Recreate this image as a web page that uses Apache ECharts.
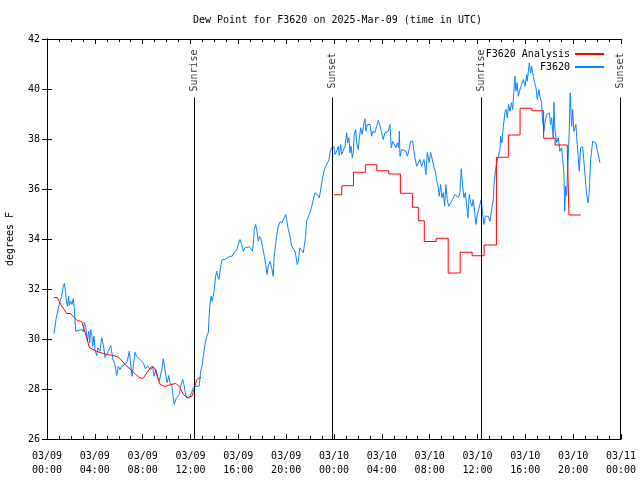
<!DOCTYPE html>
<html>
<head>
<meta charset="utf-8">
<script src="https://cdn.jsdelivr.net/npm/echarts@6/dist/echarts.min.js"></script>
<style>html,body{margin:0;padding:0;background:#fff}#c{width:640px;height:480px}</style>
</head>
<body>
<div id="c"></div>
<script>
// time in hours since 2025-03-09 00:00 UTC
const xTickLabels = ['03/09\n00:00','03/09\n04:00','03/09\n08:00','03/09\n12:00','03/09\n16:00','03/09\n20:00',
  '03/10\n00:00','03/10\n04:00','03/10\n08:00','03/10\n12:00','03/10\n16:00','03/10\n20:00','03/11\n00:00'];
const yTicks = [26,28,30,32,34,36,38,40,42];

const sunTimes = [12.29, 23.83, 36.29, 47.93];
const sunLabels = ['Sunrise','Sunset','Sunrise','Sunset'];

// F3620 observations [hour, degF]
const f3620 = [
[0.59,30.22],[0.75,30.78],[0.94,31.21],[1.09,31.51],[1.23,31.71],[1.36,32.11],[1.45,32.22],[1.53,31.98],[1.59,31.65],[1.70,31.31],
[1.81,31.71],[1.86,31.34],[1.98,31.51],[2.09,31.38],[2.20,31.61],[2.28,31.25],[2.40,30.31],[2.53,30.38],[2.90,30.38],[3.04,30.29],
[3.12,30.67],[3.24,30.46],[3.37,29.91],[3.49,30.31],[3.57,29.85],[3.65,30.38],[3.74,30.18],[3.82,29.71],[3.93,30.11],[4.01,29.58],
[4.16,29.34],[4.26,29.65],[4.43,29.51],[4.57,30.05],[4.71,29.78],[4.85,29.26],[4.99,29.38],[5.13,29.51],[5.33,29.74],[5.50,29.21],
[5.68,28.98],[5.83,28.54],[5.96,28.91],[6.10,28.78],[6.25,28.91],[6.38,28.86],[6.52,28.98],[6.71,29.11],[6.88,29.51],[7.00,28.98],
[7.11,28.51],[7.22,28.91],[7.36,29.47],[7.50,29.31],[7.63,29.25],[7.83,29.15],[8.05,29.05],[8.22,28.81],[8.39,28.91],[8.55,28.98],
[8.70,28.78],[8.84,28.91],[8.95,28.51],[9.11,28.78],[9.22,28.51],[9.39,28.31],[9.51,28.25],[9.62,28.85],[9.72,29.21],[9.84,29.21],
[9.95,28.51],[10.06,28.25],[10.18,28.54],[10.28,28.25],[10.45,28.09],[10.56,27.65],[10.64,27.38],[10.79,27.61],[10.89,27.58],[11.06,27.78],
[11.20,28.14],[11.34,28.38],[11.45,28.18],[11.56,27.85],[11.68,27.65],[11.90,27.65],[12.10,27.87],[12.29,28.09],[12.52,28.11],[12.73,28.11],
[12.85,28.71],[12.96,28.91],[13.07,29.29],[13.21,29.78],[13.35,30.11],[13.49,30.25],[13.55,30.85],[13.63,31.38],[13.71,31.71],[13.82,31.51],
[13.90,31.45],[13.99,31.98],[14.10,32.51],[14.19,32.71],[14.27,32.51],[14.38,32.38],[14.46,32.65],[14.55,32.98],[14.66,33.18],[14.88,33.18],
[15.03,33.25],[15.30,33.31],[15.49,33.31],[15.66,33.47],[15.86,33.55],[16.00,33.78],[16.14,33.98],[16.28,33.78],[16.41,33.51],[16.56,33.65],
[16.70,33.69],[16.89,33.69],[17.06,33.61],[17.17,33.51],[17.25,33.78],[17.33,34.38],[17.45,34.58],[17.53,34.38],[17.67,33.91],[17.78,34.11],
[17.89,34.01],[17.95,34.09],[18.04,33.65],[18.17,33.31],[18.29,32.98],[18.40,32.58],[18.50,32.91],[18.65,33.11],[18.79,32.85],[18.92,32.51],
[19.00,33.31],[19.12,33.78],[19.20,34.11],[19.34,34.51],[19.48,34.67],[19.67,34.67],[19.84,34.85],[19.96,34.98],[20.04,34.78],[20.18,34.38],
[20.32,34.11],[20.46,33.71],[20.59,33.65],[20.74,33.51],[20.82,33.31],[20.93,32.98],[21.01,33.11],[21.15,33.65],[21.30,33.58],[21.43,33.45],
[21.51,33.71],[21.63,34.11],[21.71,34.71],[21.85,34.89],[21.99,35.05],[22.13,35.29],[22.27,35.58],[22.41,35.85],[22.55,35.91],[22.68,35.74],
[22.77,35.65],[22.91,36.05],[23.02,36.38],[23.16,36.71],[23.30,36.91],[23.47,37.05],[23.58,37.18],[23.66,37.45],[23.80,37.65],[24.00,37.69],
[24.08,37.38],[24.22,37.51],[24.36,37.71],[24.44,37.34],[24.56,37.78],[24.64,37.38],[24.77,37.38],[24.92,37.71],[25.06,38.25],[25.14,37.85],
[25.25,38.05],[25.33,37.45],[25.42,37.71],[25.53,37.25],[25.61,37.45],[25.69,38.18],[25.81,38.38],[25.89,37.85],[26.03,37.58],[26.11,37.98],
[26.23,38.45],[26.36,38.18],[26.51,38.65],[26.59,38.81],[26.67,38.31],[26.78,38.58],[26.90,38.51],[27.01,38.58],[27.15,38.11],[27.23,38.31],
[27.34,38.38],[27.42,38.25],[27.57,38.51],[27.70,38.75],[27.84,38.54],[27.98,38.25],[28.12,37.98],[28.26,38.25],[28.40,38.18],[28.54,38.31],
[28.68,38.58],[28.79,37.65],[28.91,37.91],[29.01,37.98],[29.18,37.65],[29.29,37.85],[29.41,37.65],[29.46,38.31],[29.52,37.31],[29.66,37.58],
[29.79,37.51],[30.02,37.51],[30.13,37.31],[30.29,37.58],[30.41,37.91],[30.58,37.91],[30.69,37.51],[30.77,37.25],[30.91,36.91],[31.05,36.91],
[31.19,37.18],[31.33,36.91],[31.52,37.18],[31.69,36.58],[31.80,37.47],[31.96,37.05],[32.08,37.47],[32.25,37.11],[32.36,36.85],[32.47,36.71],
[32.58,36.38],[32.72,36.05],[32.80,35.71],[32.92,36.18],[33.03,35.65],[33.14,35.85],[33.25,35.31],[33.36,36.18],[33.47,35.58],[33.59,35.31],
[33.75,35.31],[33.92,35.58],[34.11,35.78],[34.26,35.85],[34.39,35.65],[34.53,35.85],[34.64,36.81],[34.76,36.11],[34.87,35.65],[34.98,35.85],
[35.09,35.38],[35.20,34.85],[35.31,35.78],[35.43,35.45],[35.54,35.31],[35.64,35.58],[35.76,35.11],[35.87,34.58],[35.98,34.98],[36.10,35.18],
[36.20,35.38],[36.31,35.58],[36.43,34.98],[36.54,34.58],[36.65,34.91],[36.76,34.85],[36.90,34.91],[37.04,34.71],[37.18,35.18],[37.32,35.58],
[37.37,36.11],[37.48,36.65],[37.60,37.05],[37.74,37.31],[37.88,37.58],[37.94,38.11],[38.04,37.85],[38.15,38.45],[38.29,39.05],[38.38,39.18],
[38.49,38.85],[38.60,39.38],[38.71,39.11],[38.85,39.45],[38.94,39.18],[39.05,39.98],[39.13,40.51],[39.21,39.91],[39.32,40.25],[39.41,39.71],
[39.55,39.98],[39.69,40.18],[39.83,40.38],[39.97,40.11],[40.11,40.58],[40.16,40.31],[40.24,40.65],[40.33,41.05],[40.44,40.65],[40.53,40.91],
[40.66,40.51],[40.78,40.25],[40.89,40.05],[41.00,39.58],[41.14,39.98],[41.22,39.71],[41.36,39.45],[41.45,38.71],[41.56,38.31],[41.64,38.65],
[41.78,38.98],[42.00,39.05],[42.11,38.58],[42.20,38.85],[42.33,38.05],[42.39,39.47],[42.47,38.38],[42.62,37.85],[42.75,38.05],[42.89,37.51],
[43.03,37.65],[43.12,37.18],[43.23,36.65],[43.29,35.11],[43.37,36.11],[43.45,35.71],[43.56,36.91],[43.67,38.31],[43.75,39.85],[43.87,38.51],
[43.96,39.18],[44.06,38.31],[44.23,38.58],[44.34,37.78],[44.42,37.31],[44.51,36.71],[44.62,37.65],[44.79,37.69],[44.90,37.11],[45.01,36.45],
[45.13,35.78],[45.26,35.45],[45.34,35.85],[45.46,37.18],[45.63,37.91],[45.74,37.98],[45.88,37.85],[46.01,37.58],[46.24,37.05]
];

// F3620 Analysis, first day (smooth)
const analysisDay1 = [
[0.59,31.66],[0.86,31.66],[1.15,31.38],[1.65,31.02],[1.98,31.02],[2.34,30.82],[2.53,30.74],[2.90,30.70],[3.04,30.66],[3.32,30.06],
[3.54,29.66],[4.01,29.54],[4.43,29.46],[4.99,29.38],[5.54,29.34],[5.85,29.30],[6.10,29.22],[6.61,28.94],[7.08,28.74],[7.36,28.62],
[7.69,28.46],[8.03,28.42],[8.36,28.66],[8.75,28.90],[9.03,28.82],[9.45,28.18],[9.87,28.10],[10.37,28.18],[10.79,28.22],[11.12,28.06],
[11.40,27.78],[11.71,27.66],[12.10,27.70],[12.23,27.86],[12.52,28.38],[12.88,28.47]
];
// F3620 Analysis, second day (stepped)
const analysisDay2 = [
[24.00,35.77],[24.65,36.13],[25.63,36.67],[26.62,36.97],[27.58,36.73],[28.58,36.60],[29.55,35.83],[30.55,35.27],[31.05,34.73],[31.55,33.90],
[32.55,34.03],[33.55,32.64],[34.55,33.47],[35.55,33.33],[36.55,33.76],[37.58,37.27],[38.58,38.16],[39.56,39.23],[40.54,39.13],[41.53,38.03],
[42.49,37.76],[43.51,37.57],[43.65,34.96],[44.63,34.96]
];

const FONT = 'DejaVu Sans Mono';
const txt = {fontFamily: FONT, fontSize: 10, color: '#000'};
const chart = echarts.init(document.getElementById('c'), null, {renderer: 'canvas'});

const sunLineData = sunTimes.map(t => [{coord: [t, 26]}, {coord: [t, 39.66]}]);
const sunLabelData = sunTimes.map((t, i) => ({value: [t, 40.74], name: sunLabels[i]}));

chart.setOption({
  animation: false,
  backgroundColor: '#fff',
  title: {
    text: 'Dew Point for F3620 on 2025-Mar-09 (time in UTC)',
    left: 188, top: 10,
    textStyle: {fontFamily: FONT, fontSize: 10, fontWeight: 'normal', color: '#000'}
  },
  legend: {
    orient: 'vertical', right: 30, top: 44, align: 'right',
    itemWidth: 29, itemHeight: 10, itemGap: 3,
    itemStyle: {opacity: 0},
    textStyle: txt,
    data: ['F3620 Analysis', 'F3620']
  },
  grid: {left: 47, right: 19, top: 39, bottom: 41, show: false, containLabel: false, outerBoundsMode: 'none'},
  xAxis: [{
    type: 'value', min: 0, max: 48, interval: 4, position: 'bottom',
    axisLine: {lineStyle: {color: '#000', width: 1}},
    axisTick: {inside: true, length: 5, lineStyle: {color: '#000'}},
    minorTick: {show: true, splitNumber: 4, length: 3, lineStyle: {color: '#000'}},
    splitLine: {show: false},
    axisLabel: Object.assign({margin: 10, lineHeight: 14, formatter: v => xTickLabels[Math.round(v / 4)]}, txt)
  }, {
    type: 'value', min: 0, max: 48, interval: 4, position: 'top',
    axisLine: {lineStyle: {color: '#000', width: 1}},
    axisTick: {inside: true, length: 5, lineStyle: {color: '#000'}},
    minorTick: {show: true, splitNumber: 4, length: 3, lineStyle: {color: '#000'}},
    splitLine: {show: false}, axisLabel: {show: false}
  }],
  yAxis: [{
    type: 'value', min: 26, max: 42, interval: 2, position: 'left',
    name: 'degrees F', nameLocation: 'middle', nameGap: 32, nameRotate: 90,
    nameTextStyle: txt,
    axisLine: {show: true, lineStyle: {color: '#000', width: 1}},
    axisTick: {show: true, inside: true, length: 5, lineStyle: {color: '#000'}},
    splitLine: {show: false},
    axisLabel: Object.assign({margin: 7}, txt)
  }, {
    type: 'value', min: 26, max: 42, interval: 2, position: 'right',
    axisLine: {show: true, lineStyle: {color: '#000', width: 1}},
    axisTick: {show: true, inside: true, length: 5, lineStyle: {color: '#000'}},
    splitLine: {show: false}, axisLabel: {show: false}
  }],
  series: [
    {
      name: 'F3620 Analysis', type: 'line', data: analysisDay1, symbol: 'none',
      lineStyle: {color: '#ff0000', width: 1}, itemStyle: {color: '#ff0000'}, z: 3
    },
    {
      name: 'F3620 Analysis', type: 'line', data: analysisDay2, symbol: 'none', step: 'end',
      lineStyle: {color: '#ff0000', width: 1}, itemStyle: {color: '#ff0000'}, z: 3
    },
    {
      name: 'F3620', type: 'line', data: f3620, symbol: 'none',
      lineStyle: {color: '#0a84ff', width: 1}, itemStyle: {color: '#0a84ff'}, z: 2
    },
    {
      name: 'sun', type: 'scatter', data: sunLabelData, symbolSize: 0, silent: true, z: 4,
      label: Object.assign({show: true, rotate: 90, position: 'inside', formatter: p => p.name}, txt),
      markLine: {
        silent: true, symbol: ['none', 'none'], label: {show: false},
        lineStyle: {color: '#000', width: 1, type: 'solid'},
        data: sunLineData
      }
    }
  ]
});
</script>
</body>
</html>
